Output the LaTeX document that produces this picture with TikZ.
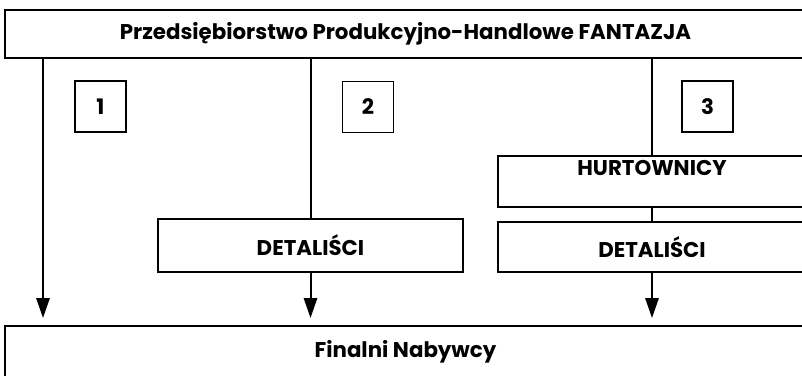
\documentclass[tikz,border=0pt]{standalone}
\usepackage{fontspec}
\setmainfont{Poppins}
\usetikzlibrary{arrows.meta}
\begin{document}
\begin{tikzpicture}[x=0.75pt,y=-0.75pt,
  lbl/.style={font=\bfseries\fontsize{16}{18}\selectfont},
  box/.style={draw,line width=1.2pt,inner sep=0pt,lbl},
  numbox/.style={box,minimum width=38.25pt,minimum height=38.25pt},
  flow/.style={line width=1.5pt},
  arr/.style={flow,-{Triangle[length=15pt,width=10pt]}}]
\clip (0,0) rectangle (802,375);
\node[box,minimum width=600.75pt,minimum height=36pt] (top) at (405.5,34) {Przedsiębiorstwo Produkcyjno-Handlowe FANTAZJA};
\node[box,minimum width=600.75pt,minimum height=39pt] (bot) at (405.5,352) {Finalni Nabywcy};
\node[numbox] (n1) at (100.5,106.5) {1};
\node[numbox] (n2) at (368,107) {2};
\node[numbox] (n3) at (707.5,106.5) {3};
\node[box,minimum width=228.75pt,minimum height=39.75pt] (det1) at (310.5,245.5) {DETALIŚCI};
\node[box,minimum width=231pt,minimum height=38.25pt] (hurt) at (652,181.5) {};
\node[lbl] (hurtlbl) at (652,168) {HURTOWNICY};
\node[box,minimum width=231pt,minimum height=37.5pt] (det2) at (652,247) {DETALIŚCI};
\coordinate (e1) at (43,318);
\coordinate (e2) at (310.5,318);
\coordinate (e3) at (652,318);
\draw[arr] (top.south -| e1) -- (e1);
\draw[flow] (top.south -| det1) -- (det1.north);
\draw[arr] (det1.south) -- (e2);
\draw[flow] (top.south -| hurt) -- (hurt.north);
\draw[flow] (hurt.south) -- (det2.north);
\draw[arr] (det2.south) -- (e3);
\end{tikzpicture}
\end{document}
